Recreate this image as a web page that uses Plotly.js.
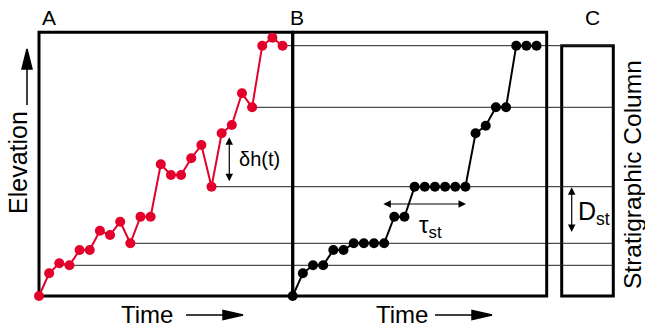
<!DOCTYPE html>
<html>
<head>
<meta charset="utf-8">
<script src="https://cdn.plot.ly/plotly-3.0.1.min.js"></script>
<style>html,body{margin:0;padding:0;background:#fff;}#chart{width:645px;height:331px;}</style>
</head>
<body>
<div id="chart"></div>
<script>
// ---- data ----
const times = [0,1,2,3,4,5,6,7,8,9,10,11,12,13,14,15,16,17,18,19,20,21,22,23,24];
const elevation = [0, 2.27, 3.27, 3.07, 4.6, 4.6, 6.53, 6.1, 7.43, 5.27, 7.93, 7.93, 13.17, 12.1, 12.1, 13.77, 15.1, 10.93, 16.27, 17.1, 20.27, 18.87, 25.03, 25.83, 25.03];
const stratElevation = [0, 2.27, 3.07, 3.07, 4.6, 4.6, 5.27, 5.27, 5.27, 5.27, 7.93, 7.93, 10.93, 10.93, 10.93, 10.93, 10.93, 10.93, 16.27, 17.03, 18.87, 18.87, 25.03, 25.03, 25.03];
const levelTimes = [3, 9, 17, 21, 24];
const levelElev = levelTimes.map(t => elevation[t]);
const panelLabels = ['A', 'B', 'C'];

// ---- geometry / style ----
const W = 645, H = 331;
const px = v => v / W, py = v => 1 - v / H;
const FONT = 'Liberation Sans, Arial, sans-serif';
const RED = '#e3002b';
const TOP = 26.37;

// level lines: from the red point to the far right (clipped at column edge)
const lx = [], ly = [];
levelTimes.forEach((t, i) => { lx.push(t, 100, null); ly.push(levelElev[i], levelElev[i], null); });

const traces = [
  {x: lx, y: ly, xaxis: 'x', yaxis: 'y', mode: 'lines', line: {color: '#222', width: 1}, hoverinfo: 'skip'},
  {x: times, y: elevation, xaxis: 'x', yaxis: 'y', mode: 'lines+markers',
   line: {color: RED, width: 2}, marker: {color: RED, size: 10}, cliponaxis: false},
  {x: times, y: stratElevation, xaxis: 'x2', yaxis: 'y', mode: 'lines+markers',
   line: {color: '#000', width: 2}, marker: {color: '#000', size: 10}, cliponaxis: false}
];

function arrowPath(anchorX, anchorY, path) {
  return {type: 'path', xref: 'paper', yref: 'paper', xsizemode: 'pixel', ysizemode: 'pixel',
          xanchor: px(anchorX), yanchor: py(anchorY), path: path,
          fillcolor: '#000', line: {color: '#000', width: 1.5}};
}
const rightArrow = 'M0,0 L-20,4.5 L-20,-4.5 Z M-18,0 L-57,0';
const upArrow = 'M0,0 L-5,-20 L5,-20 Z M0,-18 L0,-56';

const shapes = [
  {type: 'rect', xref: 'x', yref: 'y', x0: times[0], x1: 25, y0: 0, y1: TOP, layer: 'below', line: {color: '#000', width: 3}},
  {type: 'rect', xref: 'x2', yref: 'y', x0: times[0], x1: 25, y0: 0, y1: TOP, layer: 'below', line: {color: '#000', width: 3}},
  {type: 'rect', xref: 'paper', yref: 'y', x0: px(561.7), x1: px(613.3), y0: 0, y1: levelElev[levelElev.length - 1], layer: 'below', line: {color: '#000', width: 3}},
  arrowPath(27, 49, upArrow),
  arrowPath(243, 315, rightArrow),
  arrowPath(492, 315, rightArrow)
];

function label(text, x, y, size, extra) {
  return Object.assign({text: text, x: x, y: y, xref: 'paper', yref: 'paper', showarrow: false,
    font: {family: FONT, size: size, color: '#000'}, xanchor: 'center', yanchor: 'middle'}, extra || {});
}
function dbl(extra) {
  return Object.assign({text: ' ', showarrow: true, arrowside: 'end+start', arrowhead: 2, startarrowhead: 2,
    arrowsize: 1.25, startarrowsize: 1.25, arrowwidth: 1.2, arrowcolor: '#000', standoff: 0, startstandoff: 0,
    font: {size: 1}}, extra);
}

const annotations = [
  label(panelLabels[0], px(48.5), py(17.5), 21),
  label(panelLabels[1], px(297), py(17.5), 21),
  label(panelLabels[2], px(592), py(17.5), 21),
  label('Elevation', px(17.5), py(162.5), 25, {textangle: -90}),
  label('Stratigraphic Column', px(632), py(175), 24.5, {textangle: -90}),
  label('Time', px(147), py(314), 24),
  label('Time', px(402), py(314), 24),
  label('δh(t)', 19.5, 13.7, 20, {xref: 'x', yref: 'y', xanchor: 'left'}),
  label('τ<sub>st</sub>', 13.6, 7.0, 24, {xref: 'x2', yref: 'y'}),
  label('D<sub>st</sub>', px(576), 8.3, 25, {yref: 'y', xanchor: 'left'}),
  dbl({xref: 'x', yref: 'y', x: 18.75, y: 15.87, axref: 'x', ayref: 'y', ax: 18.75, ay: 11.27}),
  dbl({xref: 'x2', yref: 'y', x: 17.06, y: 9.2, axref: 'x2', ayref: 'y', ax: 8.77, ay: 9.2}),
  dbl({xref: 'paper', yref: 'y', x: px(571.7), y: 10.87, axref: 'pixel', ayref: 'y', ax: 0, ay: 6.2})
];

const layout = {
  width: W, height: H, margin: {l: 0, r: 0, t: 0, b: 0, pad: 0},
  paper_bgcolor: '#fff', plot_bgcolor: 'rgba(0,0,0,0)', showlegend: false,
  xaxis: {domain: [px(34), px(613.3)], range: [-0.4927, 56.59], visible: false, anchor: 'y', fixedrange: true},
  xaxis2: {domain: [px(287.7), px(551.7)], range: [-0.492, 25.492], visible: false, anchor: 'y', fixedrange: true},
  yaxis: {domain: [1 - 301 / H, 1 - 27 / H], range: [-0.5, 26.9], visible: false, anchor: 'x', fixedrange: true},
  shapes: shapes, annotations: annotations
};

Plotly.newPlot('chart', traces, layout, {displayModeBar: false, staticPlot: true});
</script>
</body>
</html>
